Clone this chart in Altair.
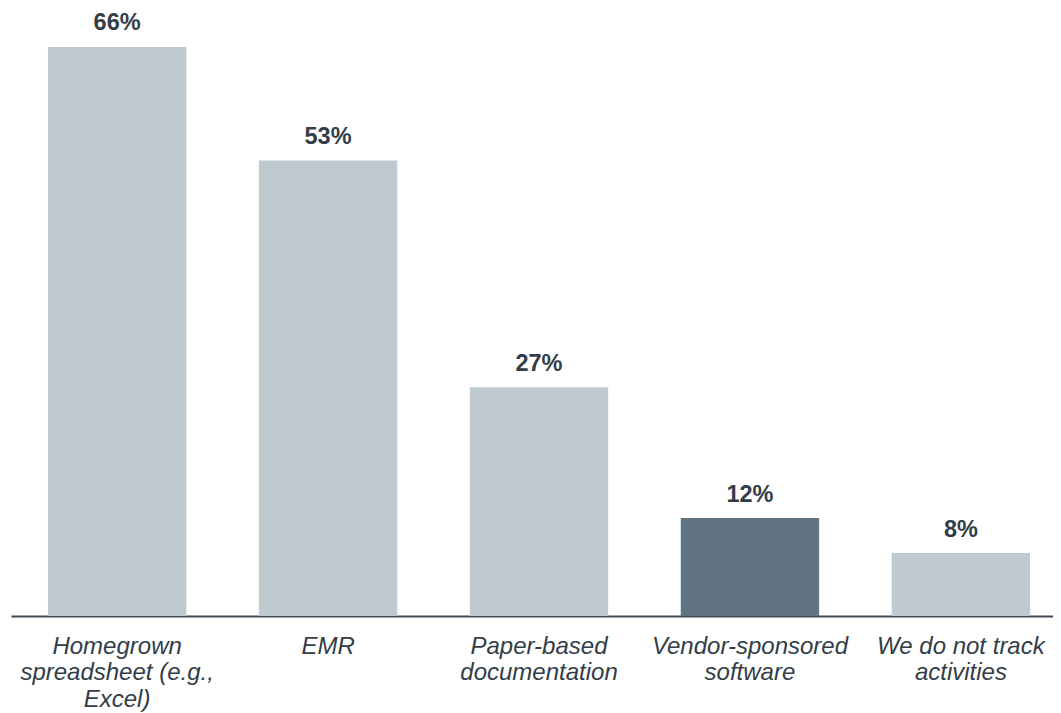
import altair as alt
import pandas as pd

categories = [
    "Homegrown\nspreadsheet (e.g.,\nExcel)",
    "EMR",
    "Paper-based\ndocumentation",
    "Vendor-sponsored\nsoftware",
    "We do not track\nactivities",
]
values = [66, 53, 27, 12, 8]
labels = ["66%", "53%", "27%", "12%", "8%"]
highlight = ["no", "no", "no", "yes", "no"]

df = pd.DataFrame({"category": categories, "value": values, "label": labels, "hl": highlight})

W, H = 1042, 608
FONT = "Liberation Sans"
TEXT_COLOR = "#333d47"

xenc = alt.X(
    "category:N",
    sort=categories,
    scale=alt.Scale(range=[0, 1056], paddingInner=0.344, paddingOuter=0.175),
    axis=alt.Axis(
        title=None,
        labelAngle=0,
        ticks=False,
        domainColor="#3e4852",
        domainWidth=2,
        labelFont=FONT,
        labelFontStyle="italic",
        labelFontSize=24,
        labelLineHeight=26.5,
        labelPadding=18,
        labelColor=TEXT_COLOR,
        labelLimit=0,
        labelExpr="split(datum.label, '\\n')",
    ),
)
yscale = alt.Scale(domain=[0.78, 70.47], clamp=True, nice=False, zero=False)

base = alt.Chart(df)
bars = base.mark_bar().encode(
    x=xenc,
    y=alt.Y("value:Q", scale=yscale, axis=None),
    y2=alt.datum(0),
    color=alt.Color("hl:N", scale=alt.Scale(domain=["no", "yes"], range=["#bfcad0", "#607482"]), legend=None),
)
text = base.mark_text(
    font=FONT, fontWeight="bold", fontSize=23.5, color=TEXT_COLOR, baseline="alphabetic", dy=-16.5
).encode(
    x=alt.X("category:N", sort=categories),
    y=alt.Y("value:Q", scale=yscale, axis=None),
    text="label:N",
)

chart = (
    alt.layer(bars, text)
    .properties(
        width=W,
        height=H,
        autosize=alt.AutoSizeParams(type="none"),
        padding={"left": 3, "top": 0, "right": 0, "bottom": 97},
    )
    .configure(background="white", view=alt.ViewConfig(strokeWidth=0, stroke="transparent"))
)

chart.save("out.html", embed_options={"renderer": "svg", "actions": False})
